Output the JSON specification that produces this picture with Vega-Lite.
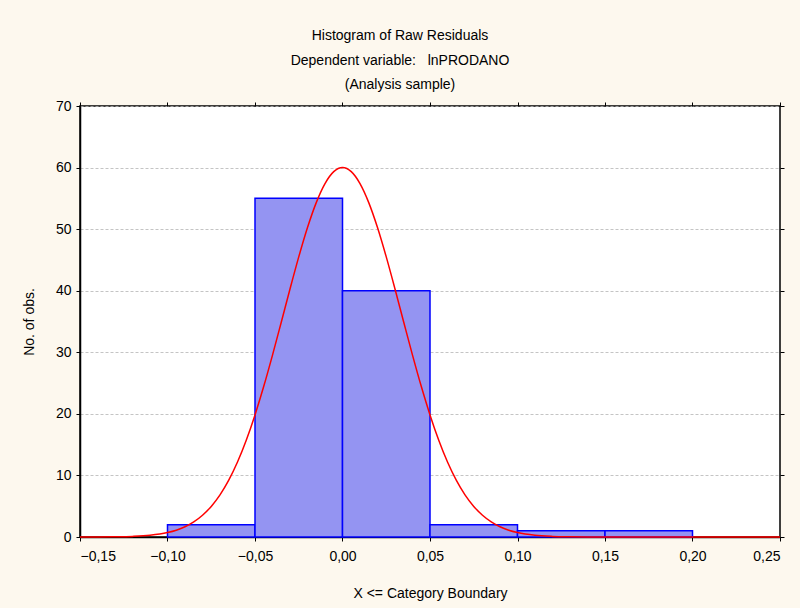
{
  "$schema": "https://vega.github.io/schema/vega-lite/v6.json",
  "width": 700,
  "height": 431,
  "autosize": {"type": "none"},
  "padding": {"left": 80, "top": 106, "right": 20, "bottom": 71},
  "background": "#fdf8ee",
  "config": {
    "view": {"fill": "white", "stroke": "black", "strokeWidth": 1.5},
    "font": "Liberation Sans",
    "axis": {"labelColor": "black", "titleColor": "black", "labelFontSize": 14, "titleFontSize": 14, "titleFontWeight": "normal", "domainColor": "black", "tickColor": "black", "domainWidth": 1.5}
  },
  "title": {
    "text": ["Histogram of Raw Residuals", "Dependent variable:\u00a0\u00a0\u00a0lnPRODANO", "(Analysis sample)"],
    "fontSize": 14,
    "fontWeight": "normal",
    "lineHeight": 24.5,
    "anchor": "middle",
    "dx": -30,
    "offset": 7,
    "color": "black"
  },
  "datasets": {
    "bins": [
      {"lo": -0.10, "hi": -0.05, "count": 2},
      {"lo": -0.05, "hi": 0.00, "count": 55},
      {"lo": 0.00, "hi": 0.05, "count": 40},
      {"lo": 0.05, "hi": 0.10, "count": 2},
      {"lo": 0.10, "hi": 0.15, "count": 1},
      {"lo": 0.15, "hi": 0.20, "count": 1}
    ],
    "curve": [
      {"x": -0.15, "y": 0.003}, {"x": -0.14, "y": 0.01}, {"x": -0.13, "y": 0.034}, {"x": -0.12, "y": 0.10}, {"x": -0.11, "y": 0.28},
      {"x": -0.10, "y": 0.72}, {"x": -0.095, "y": 1.10}, {"x": -0.09, "y": 1.66}, {"x": -0.085, "y": 2.45}, {"x": -0.08, "y": 3.53},
      {"x": -0.075, "y": 4.97}, {"x": -0.07, "y": 6.85}, {"x": -0.065, "y": 9.24}, {"x": -0.06, "y": 12.18}, {"x": -0.055, "y": 15.72},
      {"x": -0.05, "y": 19.83}, {"x": -0.045, "y": 24.47}, {"x": -0.04, "y": 29.54}, {"x": -0.035, "y": 34.88}, {"x": -0.03, "y": 40.28},
      {"x": -0.025, "y": 45.49}, {"x": -0.02, "y": 50.26}, {"x": -0.015, "y": 54.31}, {"x": -0.01, "y": 57.40}, {"x": -0.005, "y": 59.34},
      {"x": 0.0, "y": 60.0},
      {"x": 0.005, "y": 59.34}, {"x": 0.01, "y": 57.40}, {"x": 0.015, "y": 54.31}, {"x": 0.02, "y": 50.26}, {"x": 0.025, "y": 45.49},
      {"x": 0.03, "y": 40.28}, {"x": 0.035, "y": 34.88}, {"x": 0.04, "y": 29.54}, {"x": 0.045, "y": 24.47}, {"x": 0.05, "y": 19.83},
      {"x": 0.055, "y": 15.72}, {"x": 0.06, "y": 12.18}, {"x": 0.065, "y": 9.24}, {"x": 0.07, "y": 6.85}, {"x": 0.075, "y": 4.97},
      {"x": 0.08, "y": 3.53}, {"x": 0.085, "y": 2.45}, {"x": 0.09, "y": 1.66}, {"x": 0.095, "y": 1.10}, {"x": 0.10, "y": 0.72},
      {"x": 0.11, "y": 0.28}, {"x": 0.12, "y": 0.10}, {"x": 0.13, "y": 0.034}, {"x": 0.14, "y": 0.01}, {"x": 0.15, "y": 0.003},
      {"x": 0.17, "y": 0.0}, {"x": 0.20, "y": 0.0}, {"x": 0.25, "y": 0.0}
    ]
  },
  "layer": [
    {
      "data": {"name": "bins"},
      "mark": {"type": "bar", "fill": "#9494f2", "stroke": "#0000ff", "strokeWidth": 1.5},
      "encoding": {
        "x": {
          "field": "lo", "type": "quantitative",
          "scale": {"domain": [-0.15, 0.25], "nice": false, "zero": false},
          "axis": {
            "values": [-0.15, -0.10, -0.05, 0.0, 0.05, 0.10, 0.15, 0.20, 0.25],
            "labelExpr": "replace(format(datum.value, '.2f'), '.', ',')",
            "title": "X <= Category Boundary",
            "grid": false, "tickSize": 4, "labelPadding": 8, "titlePadding": 23
          }
        },
        "x2": {"field": "hi"},
        "y": {
          "field": "count", "type": "quantitative", "stack": null,
          "scale": {"domain": [0, 70], "nice": false},
          "axis": {
            "values": [0, 10, 20, 30, 40, 50, 60, 70],
            "title": "No. of obs.",
            "grid": true, "gridDash": [3, 2], "gridColor": "#b5b5b5", "gridWidth": 0.8,
            "tickSize": 4, "labelPadding": 5, "titlePadding": 19
          }
        },
        "y2": {"datum": 0}
      }
    },
    {
      "data": {"name": "curve"},
      "mark": {"type": "line", "color": "#ff0000", "strokeWidth": 1.5, "interpolate": "monotone"},
      "encoding": {
        "x": {"field": "x", "type": "quantitative", "axis": {"orient": "top", "values": [-0.15, -0.10, -0.05, 0.0, 0.05, 0.10, 0.15, 0.20, 0.25], "labels": false, "title": null, "grid": false, "tickSize": 4, "domain": false}},
        "y": {"field": "y", "type": "quantitative", "axis": {"orient": "right", "values": [0, 10, 20, 30, 40, 50, 60, 70], "labels": false, "title": null, "grid": false, "tickSize": 4, "domain": false}}
      }
    }
  ],
  "resolve": {"axis": {"x": "independent", "y": "independent"}}
}
